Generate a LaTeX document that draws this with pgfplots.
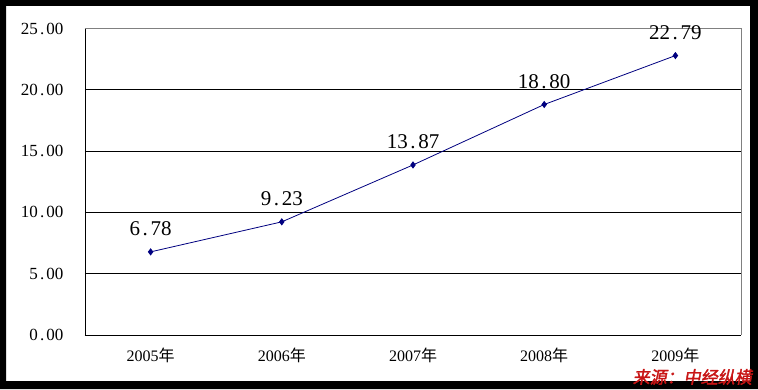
\documentclass[border=0pt]{standalone}
\usepackage{pgfplots}
\pgfplotsset{compat=1.18}
\usepackage{fontspec}
\setmainfont{Liberation Serif}
\newfontfamily\cjk{Noto Sans CJK SC}
\newfontfamily\cjkwm[FakeSlant=0.18,FakeBold=2]{Noto Sans CJK SC}
\definecolor{navy}{RGB}{0,0,128}
\definecolor{wmred}{RGB}{200,20,20}
\newcommand\dotsp{\kern0.12em.\kern0.13em}
\begin{document}
\begin{tikzpicture}
\path[use as bounding box] (0,0) rectangle (758pt,389pt);
\fill[white] (0,0) rectangle (758pt,389pt);
\begin{axis}[at={(85pt,54pt)}, anchor=south west, scale only axis,
  width=656pt, height=306.5pt,
  xmin=-0.5, xmax=4.5, ymin=0, ymax=25,
  xtick={0,1,2,3,4},
  xticklabels={2005{\cjk 年},2006{\cjk 年},2007{\cjk 年},2008{\cjk 年},2009{\cjk 年}},
  xticklabel style={font=\fontsize{16}{16}\selectfont, yshift=-9pt},
  major x tick style={draw=none},
  extra x ticks={0.5,1.5,2.5,3.5},
  extra x tick labels={},
  extra x tick style={major tick length=4pt, tick style={black, line width=0.8pt}},
  ytick={0,5,10,15,20,25},
  yticklabels={0\dotsp00,5\dotsp00,10\dotsp00,15\dotsp00,20\dotsp00,25\dotsp00},
  yticklabel style={font=\fontsize{17}{17}\selectfont, xshift=-18pt},
  major y tick style={draw=none},
  ymajorgrids, major grid style={black, line width=0.8pt},
  axis x line*=bottom, axis y line*=left,
  axis line style={black, line width=0.8pt, -},
  clip=false,
]
\addplot[color=navy, line width=0.8pt, mark=diamond*, mark size=3pt,
  nodes near coords, point meta=explicit symbolic,
  every node near coord/.style={font=\fontsize{21}{21}\selectfont, text=black, anchor=center, yshift=23pt}]
  table[meta=label] {
x y label
0 6.78 6\dotsp{}78
1 9.23 9\dotsp{}23
2 13.87 13\dotsp{}87
3 18.80 18\dotsp{}80
4 22.79 22\dotsp{}79
};
\draw[gray, line width=0.8pt] (axis description cs:0,1) -- (axis description cs:1,1) -- (axis description cs:1,0);
\end{axis}
\fill[black, even odd rule] (0,0) rectangle (758pt,389pt) (6pt,8pt) rectangle (750pt,383pt);
\node[anchor=east, inner sep=0pt, text=wmred] at (752pt,12pt) {\cjkwm\fontsize{17}{17}\selectfont 来源：中经纵横};
\end{tikzpicture}
\end{document}
